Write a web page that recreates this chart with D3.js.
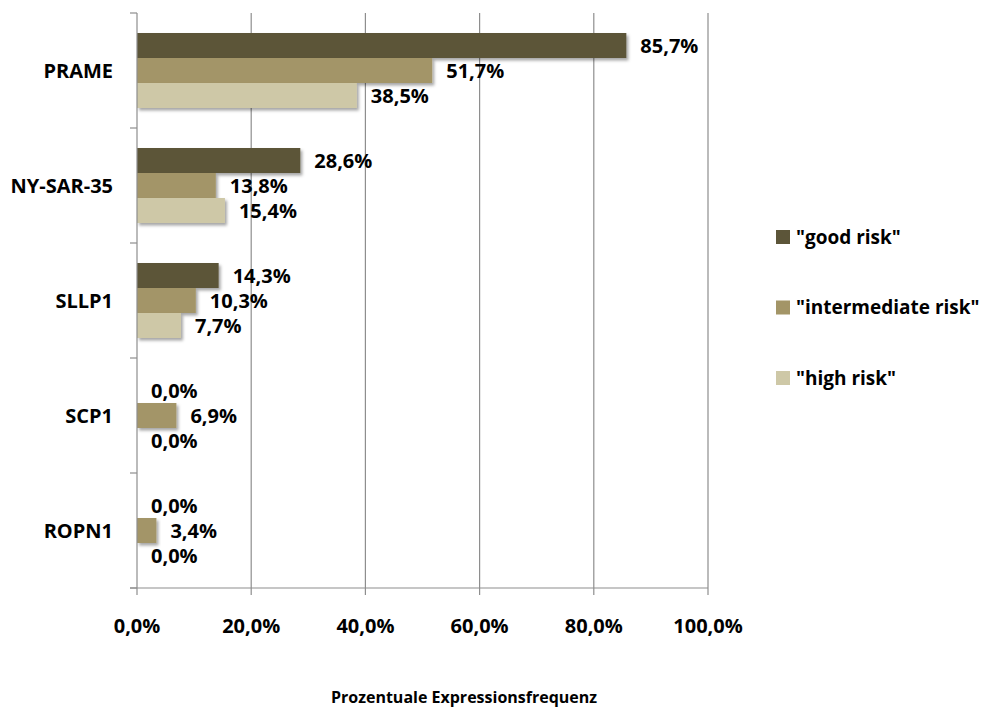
<!DOCTYPE html>
<html>
<head>
<meta charset="utf-8">
<script src="https://cdn.jsdelivr.net/npm/d3@7"></script>
<style>
  body { margin: 0; background: #fff; }
  text { font-family: "Open Sans", "DejaVu Sans", sans-serif; font-weight: bold; fill: #000; }
</style>
</head>
<body>
<div id="chart"></div>
<script>
// Data
const genes = ["PRAME", "NY-SAR-35", "SLLP1", "SCP1", "ROPN1"];
const seriesNames = ["\"good risk\"", "\"intermediate risk\"", "\"high risk\""];
const goodRisk = [85.7, 28.6, 14.3, 0.0, 0.0];
const intermediateRisk = [51.7, 13.8, 10.3, 6.9, 3.4];
const highRisk = [38.5, 15.4, 7.7, 0.0, 0.0];
const xTicks = [0, 20, 40, 60, 80, 100];
const colors = ["#5c5539", "#a39567", "#cec8a7"];

const seriesValues = [goodRisk, intermediateRisk, highRisk];

const width = 986, height = 711;
const margin = { top: 13, left: 137, right: 278, bottom: 123 };
const plotW = width - margin.left - margin.right;
const plotH = height - margin.top - margin.bottom;

const svg = d3.select("#chart")
    .append("svg")
    .attr("width", width)
    .attr("height", height);

// soft drop shadow like the office chart
const defs = svg.append("defs");
defs.append("filter")
    .attr("id", "shadow")
    .attr("x", "-10%").attr("y", "-20%")
    .attr("width", "130%").attr("height", "160%")
    .append("feDropShadow")
    .attr("dx", 2).attr("dy", 2.5)
    .attr("stdDeviation", 1.6)
    .attr("flood-color", "#000")
    .attr("flood-opacity", 0.35);

const g = svg.append("g")
    .attr("transform", `translate(${margin.left},${margin.top})`);

const x = d3.scaleLinear().domain([0, 100]).range([0, plotW]);
const y = d3.scaleBand().domain(genes).range([0, plotH]).paddingInner(0).paddingOuter(0);
const inner = d3.scaleBand().domain(d3.range(3)).range([20, y.bandwidth() - 20]);

const fmt = v => v.toFixed(1).replace(".", ",") + "%";

// vertical gridlines
g.selectAll(".grid")
    .data(xTicks.slice(1))
    .enter().append("line")
    .attr("x1", d => x(d)).attr("x2", d => x(d))
    .attr("y1", 0).attr("y2", plotH)
    .attr("stroke", "#8e8e8e")
    .attr("stroke-width", 1.2);

// bars
const rows = [];
genes.forEach((gene, i) => {
    seriesValues.forEach((vals, s) => {
        rows.push({ gene: gene, s: s, value: vals[i] });
    });
});

g.selectAll("rect.bar")
    .data(rows.filter(d => d.value > 0))
    .enter().append("rect")
    .attr("class", "bar")
    .attr("x", x(0))
    .attr("y", d => y(d.gene) + inner(d.s))
    .attr("width", d => x(d.value) - x(0))
    .attr("height", inner.bandwidth())
    .attr("fill", d => colors[d.s])
    .attr("filter", "url(#shadow)");

// value labels
g.selectAll("text.val")
    .data(rows)
    .enter().append("text")
    .attr("class", "val")
    .attr("x", d => x(d.value) + 14)
    .attr("y", d => y(d.gene) + inner(d.s) + inner.bandwidth() / 2)
    .attr("dy", "0.36em")
    .style("font-size", "20px")
    .text(d => fmt(d.value));

// left axis
const yAxis = g.append("g");
yAxis.append("line")
    .attr("x1", 0).attr("x2", 0)
    .attr("y1", 0).attr("y2", plotH)
    .attr("stroke", "#8e8e8e").attr("stroke-width", 1.2);
yAxis.selectAll(".ytick")
    .data(genes.map(d => y(d)).concat([plotH]))
    .enter().append("line")
    .attr("x1", -7).attr("x2", 0)
    .attr("y1", d => d).attr("y2", d => d)
    .attr("stroke", "#8e8e8e").attr("stroke-width", 1.2);
yAxis.selectAll(".ylab")
    .data(genes)
    .enter().append("text")
    .attr("x", -24)
    .attr("y", d => y(d) + y.bandwidth() / 2)
    .attr("dy", "0.36em")
    .attr("text-anchor", "end")
    .style("font-size", "20px")
    .text(d => d);

// bottom axis
const xAxis = g.append("g").attr("transform", `translate(0,${plotH})`);
xAxis.append("line")
    .attr("x1", -7).attr("x2", plotW)
    .attr("y1", 0).attr("y2", 0)
    .attr("stroke", "#8e8e8e").attr("stroke-width", 1.2);
xAxis.selectAll(".xtick")
    .data(xTicks)
    .enter().append("line")
    .attr("x1", d => x(d)).attr("x2", d => x(d))
    .attr("y1", 0).attr("y2", 7)
    .attr("stroke", "#8e8e8e").attr("stroke-width", 1.2);
xAxis.selectAll(".xlab")
    .data(xTicks)
    .enter().append("text")
    .attr("x", d => x(d))
    .attr("y", 45)
    .attr("text-anchor", "middle")
    .style("font-size", "20px")
    .text(d => fmt(d));

// axis title
svg.append("text")
    .attr("x", 464)
    .attr("y", 703)
    .attr("text-anchor", "middle")
    .style("font-size", "16px")
    .text("Prozentuale Expressionsfrequenz");

// legend
const legend = svg.append("g").attr("transform", "translate(776,230)");
const item = legend.selectAll("g")
    .data(seriesNames)
    .enter().append("g")
    .attr("transform", (d, i) => `translate(0,${i * 70.5})`);
item.append("rect")
    .attr("width", 14).attr("height", 14)
    .attr("fill", (d, i) => colors[i]);
item.append("text")
    .attr("x", 20).attr("y", 7)
    .attr("dy", "0.36em")
    .style("font-size", "19px")
    .text(d => d);
</script>
</body>
</html>
